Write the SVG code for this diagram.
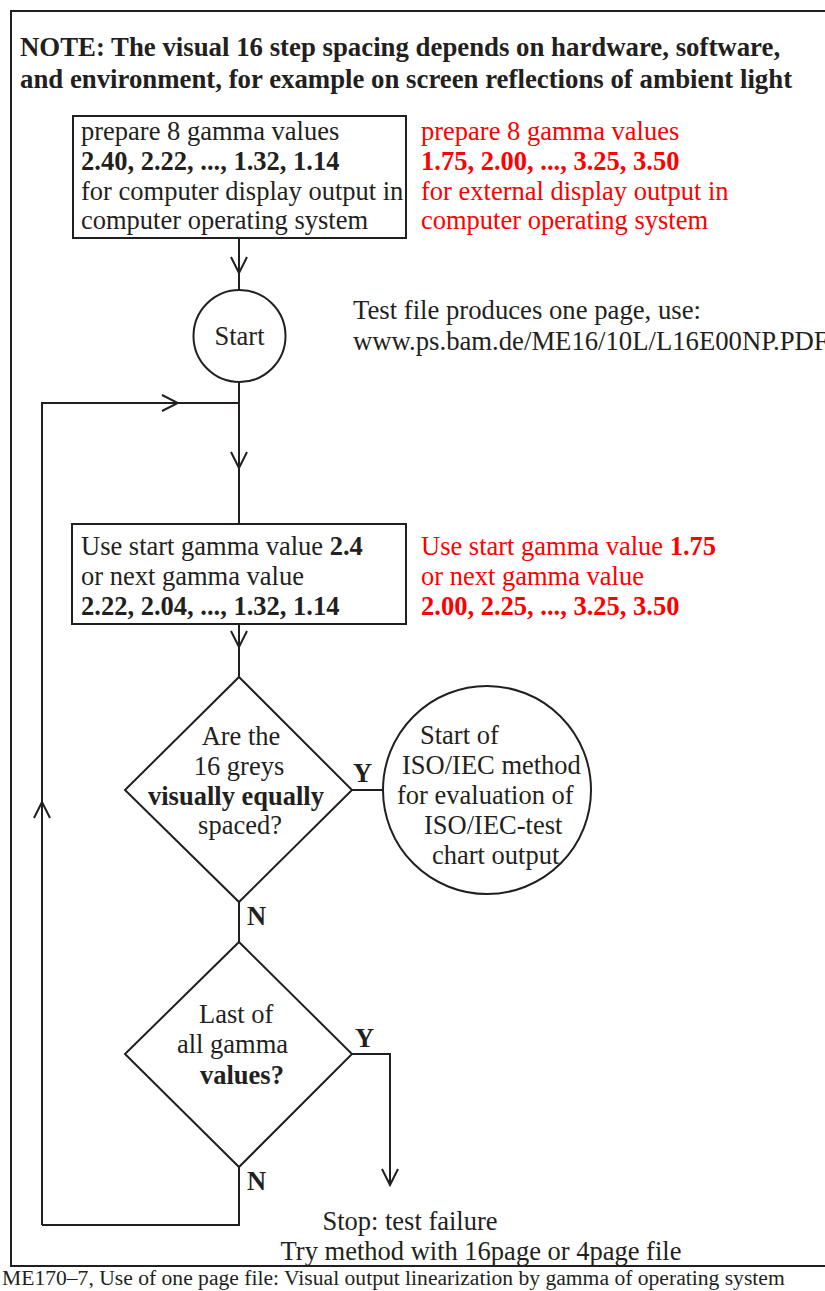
<svg xmlns="http://www.w3.org/2000/svg" width="825" height="1291" viewBox="0 0 825 1291">
<style>
text{font-family:"Liberation Serif","Times New Roman",serif;font-size:26.5px;fill:#231f20}
.b{font-weight:bold}
.r{fill:#ff0000}
.shape{fill:none;stroke:#231f20;stroke-width:2}
.line{fill:none;stroke:#231f20;stroke-width:2}
.note{font-size:26.8px}
.tf{font-size:26.7px}
.cap{font-size:21.6px}
</style>
<defs>
<marker id="arr" viewBox="-18 -9 20 18" markerWidth="20" markerHeight="18" refX="0" refY="0" orient="auto" markerUnits="userSpaceOnUse">
<path d="M-16,-8 L0,0 L-16,8" fill="none" stroke="#231f20" stroke-width="2"/>
</marker>
</defs>
<rect x="11" y="11" width="830" height="1255" class="shape"/>
<g id="note">
<text class="b note" x="20" y="56">NOTE: The visual 16 step spacing depends on hardware, software,</text>
<text class="b note" x="20" y="88">and environment, for example on screen reflections of ambient light</text>
</g>
<g id="connectors">
<path class="line" d="M239,238 V273" marker-end="url(#arr)"/>
<path class="line" d="M239,270 V290"/>
<path class="line" d="M239,382 V468" marker-end="url(#arr)"/>
<path class="line" d="M239,465 V524"/>
<path class="line" d="M42,1225 V403 H178" marker-end="url(#arr)"/>
<path class="line" d="M42,830 V802" marker-end="url(#arr)"/>
<path class="line" d="M175,403 H239"/>
<path class="line" d="M239,624 V647" marker-end="url(#arr)"/>
<path class="line" d="M239,644 V677"/>
<path class="line" d="M352,790 H383"/>
<path class="line" d="M239,902 V942"/>
<path class="line" d="M352,1054 H390 V1185" marker-end="url(#arr)"/>
<path class="line" d="M239,1167 V1225 H42"/>
</g>
<g id="box1">
<rect x="73" y="116" width="333" height="122" class="shape"/>
<text x="81" y="140">prepare 8 gamma values</text>
<text class="b" x="81" y="170">2.40, 2.22, ..., 1.32, 1.14</text>
<text x="81" y="200">for computer display output in</text>
<text x="81" y="229">computer operating system</text>
</g>
<g id="box1-alt">
<text class="r" x="421" y="140">prepare 8 gamma values</text>
<text class="r b" x="421" y="170">1.75, 2.00, ..., 3.25, 3.50</text>
<text class="r" x="421" y="200">for external display output in</text>
<text class="r" x="421" y="229">computer operating system</text>
</g>
<g id="start">
<circle cx="239.5" cy="336" r="46" class="shape"/>
<text x="239.5" y="345" text-anchor="middle">Start</text>
</g>
<g id="testfile">
<text class="tf" x="353" y="319">Test file produces one page, use:</text>
<text class="tf" x="353" y="350">www.ps.bam.de/ME16/10L/L16E00NP.PDF</text>
</g>
<g id="box2">
<rect x="72" y="524" width="334" height="100" class="shape"/>
<text x="81" y="555">Use start gamma value <tspan class="b">2.4</tspan></text>
<text x="81" y="585">or next gamma value</text>
<text class="b" x="81" y="615">2.22, 2.04, ..., 1.32, 1.14</text>
</g>
<g id="box2-alt">
<text class="r" x="421" y="555">Use start gamma value <tspan class="b">1.75</tspan></text>
<text class="r" x="421" y="585">or next gamma value</text>
<text class="r b" x="421" y="615">2.00, 2.25, ..., 3.25, 3.50</text>
</g>
<g id="decision1">
<path class="shape" d="M239,677 L352,790 L239,902 L125,790 Z"/>
<text x="241" y="745" text-anchor="middle">Are the</text>
<text x="239" y="775" text-anchor="middle">16 greys</text>
<text class="b" x="236" y="805" text-anchor="middle">visually equally</text>
<text x="240" y="834" text-anchor="middle">spaced?</text>
<text class="b" x="353" y="782">Y</text>
<text class="b" x="247" y="925">N</text>
</g>
<g id="iso">
<circle cx="487" cy="790" r="104" class="shape"/>
<text x="420" y="744">Start of</text>
<text x="402" y="774">ISO/IEC method</text>
<text x="397" y="804">for evaluation of</text>
<text x="424" y="834">ISO/IEC-test</text>
<text x="432" y="864">chart output</text>
</g>
<g id="decision2">
<path class="shape" d="M239,942 L352,1054 L239,1167 L125,1054 Z"/>
<text x="199" y="1023">Last of</text>
<text x="177" y="1053">all gamma</text>
<text class="b" x="200" y="1084">values?</text>
<text class="b" x="355" y="1047">Y</text>
<text class="b" x="247" y="1190">N</text>
</g>
<g id="stop">
<text x="410" y="1230" text-anchor="middle">Stop: test failure</text>
<text x="481" y="1260" text-anchor="middle">Try method with 16page or 4page file</text>
</g>
<text class="cap" x="2" y="1285">ME170–7, Use of one page file: Visual output linearization by gamma of operating system</text>
</svg>
